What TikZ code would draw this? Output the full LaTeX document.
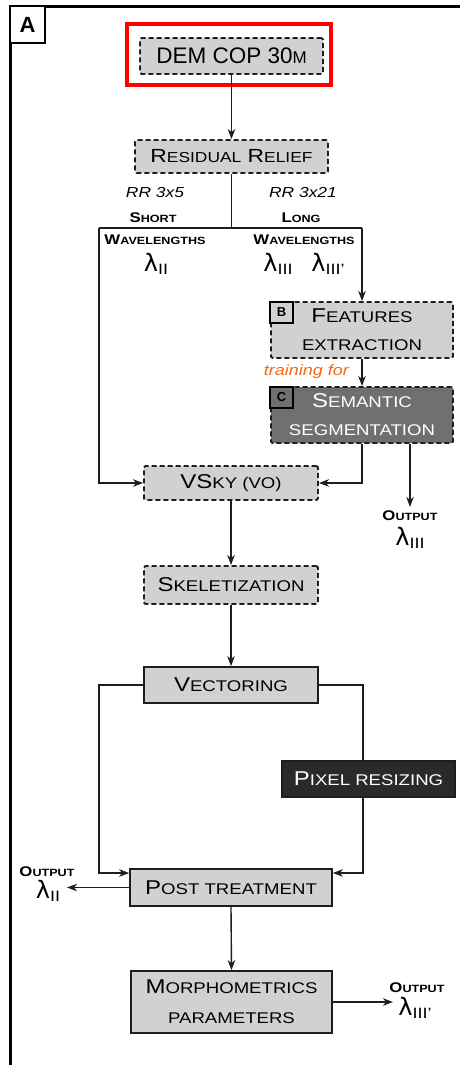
\documentclass[tikz,border=0pt]{standalone}
\usepackage{fontspec}
\setmainfont{Liberation Sans}[FakeStretch=1.2]
\newfontfamily\plainsf{Liberation Sans}
\newfontfamily\lamfont{DejaVu Sans}
\usetikzlibrary{arrows.meta,calc}
\definecolor{boxgray}{RGB}{209,209,209}
\definecolor{semgray}{RGB}{112,112,112}
\definecolor{pixblack}{RGB}{42,42,42}
\definecolor{lineg}{RGB}{30,30,30}
\definecolor{trainorange}{RGB}{245,105,20}
\newcommand\lc[1]{{\fontsize{\lcsz}{\lcbs}\selectfont #1}}
\newcommand\setsc[3]{\fontsize{#1}{#3}\selectfont\def\lcsz{#2}\def\lcbs{#3}}
\newcommand\lam[1]{{\lamfont\fontsize{24}{24}\selectfont λ}\raisebox{-3pt}{\fontsize{15}{15}\selectfont #1}}
\tikzset{
  dbox/.style={draw=lineg, line width=1.9pt, dash pattern=on 5pt off 3pt, fill=boxgray, rounded corners=1.5pt, inner sep=0pt, align=center},
  sbox/.style={draw=lineg, line width=1.7pt, fill=boxgray, inner sep=0pt, align=center},
  conn/.style={draw=lineg, line width=1.4pt},
  arr/.style={conn, -{Stealth[length=10pt,width=7.5pt,inset=3pt]}},
  boxfont/.style={font=\setsc{20}{15.5}{28}},
  bsc/.style={inner sep=0pt, font=\bfseries\setsc{14}{10.5}{14}},
  lamlab/.style={inner sep=0pt},
  tag/.style={draw=black, line width=1.6pt, inner sep=0pt, minimum width=23, minimum height=21, font=\plainsf\bfseries\fontsize{13}{13}\selectfont},
}
\begin{document}
\begin{tikzpicture}[x=1pt,y=-1pt]
\useasboundingbox (0,0) rectangle (459,1065);
% frame
\draw[line width=3pt] (460,6.5) -- (10.5,6.5) -- (10.5,1066);
\node[draw=black, line width=1.6pt, fill=white, minimum width=35, minimum height=37, inner sep=0pt, font=\plainsf\bfseries\fontsize{22}{22}\selectfont] (lblA) at (27.5,24.5) {A};

% boxes
\node[draw=red, line width=3.2pt, minimum width=204, minimum height=61] (redbox) at (229,54.5) {};
\node[dbox, minimum width=183, minimum height=36, font=\plainsf\fontsize{22.5}{26}\selectfont] (dem) at (231.5,56) {DEM COP 30{\fontsize{17}{20}\selectfont M}};
\node[dbox, minimum width=193, minimum height=33, font=\setsc{19}{14.5}{24}] (res) at (231.5,156.5) {R\lc{ESIDUAL} R\lc{ELIEF}};
\node[dbox, boxfont, minimum width=182, minimum height=56] (feat) at (362,330) {F\lc{EATURES}\\\lc{EXTRACTION}};
\node[dbox, boxfont, fill=semgray, text=white, minimum width=182, minimum height=56] (sem) at (362,415) {S\lc{EMANTIC}\\\lc{SEGMENTATION}};
\node[tag, fill=boxgray] (tagB) at (281.5,312.5) {B};
\node[tag, fill=semgray] (tagC) at (281.5,397.5) {C};
\node[dbox, boxfont, minimum width=174, minimum height=34] (vsky) at (231,483) {VS\lc{KY (VO)}};
\node[dbox, boxfont, minimum width=174, minimum height=38] (skel) at (231,585) {S\lc{KELETIZATION}};
\node[sbox, boxfont, minimum width=174, minimum height=36] (vec) at (231,685) {V\lc{ECTORING}};
\node[sbox, boxfont, fill=pixblack, text=white, minimum width=173, minimum height=36] (pix) at (368.5,779) {P\lc{IXEL RESIZING}};
\node[sbox, boxfont, minimum width=202, minimum height=37] (post) at (231,887.5) {P\lc{OST TREATMENT}};
\node[sbox, font=\setsc{20}{15.5}{30}, minimum width=201, minimum height=62] (morph) at (231.5,1002) {M\lc{ORPHOMETRICS}\\\lc{PARAMETERS}};

% labels
\node[inner sep=0pt, font=\itshape\fontsize{14.5}{16}\selectfont] (rr5) at (155,193) {RR 3x5};
\node[inner sep=0pt, font=\itshape\fontsize{14.5}{16}\selectfont] (rr21) at (303,193) {RR 3x21};
\node[bsc] (short) at (153,218) {S\lc{HORT}};
\node[bsc] (long) at (301,218) {L\lc{ONG}};
\node[bsc] (wl1) at (155,240) {W\lc{AVELENGTHS}};
\node[bsc] (wl2) at (304,240) {W\lc{AVELENGTHS}};
\node[lamlab] (l2a) at (156,264) {\lam{II}};
\node[lamlab] (l3a) at (278,264) {\lam{III}};
\node[lamlab] (l3pa) at (328,264) {\lam{III'}};
\node[inner sep=0pt, text=trainorange, font=\itshape\fontsize{15}{17}\selectfont, anchor=east] (train) at (349,372) {training for};
\node[bsc] (out3) at (410,516) {O\lc{UTPUT}};
\node[lamlab] (l3b) at (410,538) {\lam{III}};
\node[bsc] (out2) at (47,872) {O\lc{UTPUT}};
\node[lamlab] (l2b) at (48,891) {\lam{II}};
\node[bsc] (out4) at (417,988) {O\lc{UTPUT}};
\node[lamlab] (l3pb) at (415,1008) {\lam{III'}};

% coordinates
\coordinate (sp) at (231.5,228);
\coordinate (lc) at (99,228);
\coordinate (rc) at (362,228);
\coordinate (o3) at (410,507);
\coordinate (pl) at (99,873);
\coordinate (pr) at (363,873);
\coordinate (o2) at (67,888);
\coordinate (o4) at (393,1004);

% connectors
\draw[arr] (dem.south) -- (res.north);
\draw[conn] (res.south) -- (sp);
\draw[conn] (lc) -- (rc);
\draw[arr] (lc) |- (vsky.west);
\draw[arr] (rc) -- (feat.north);
\draw[arr] (feat.south) -- (sem.north);
\draw[arr] (sem.south) |- (vsky.east);
\draw[arr] (o3 |- sem.south) -- (o3);
\draw[arr] (vsky.south) -- (skel.north);
\draw[arr] (skel.south) -- (vec.north);
\draw[arr] (vec.west) -| (pl) -- (pl -| post.west);
\draw[conn] (vec.east) -| (pr |- pix.north);
\draw[arr] (pr |- pix.south) -- (pr) -- (pr -| post.east);
\draw[arr] (post.west) -- (o2 |- post.west);
\draw[arr] (post.south) -- (morph.north);
\draw[arr] (morph.east) -- (o4 |- morph.east);
\end{tikzpicture}
\end{document}
